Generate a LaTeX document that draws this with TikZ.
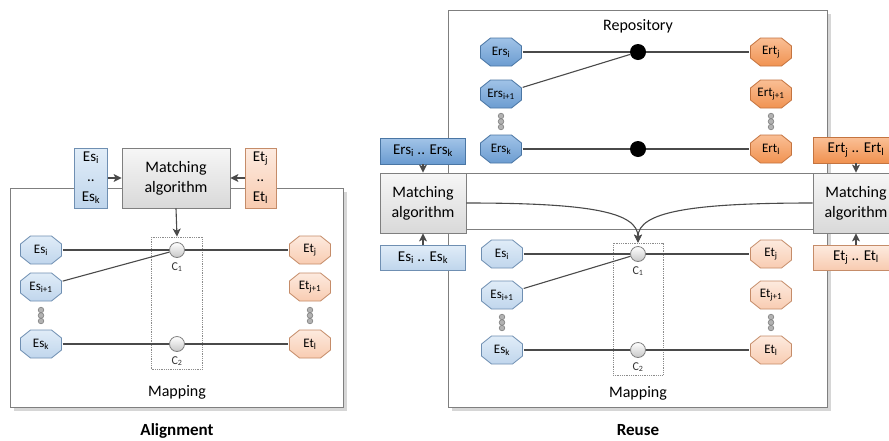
\documentclass[tikz,border=0pt]{standalone}
\usepackage{fontspec}
\setmainfont{Carlito}
\usetikzlibrary{arrows.meta}

\definecolor{framegray}{HTML}{7F7F7F}
\definecolor{shadowgray}{HTML}{D6D6D6}
\definecolor{linegray}{HTML}{4A4A4A}
\definecolor{esTop}{HTML}{E1EDF8}
\definecolor{esBot}{HTML}{BFD5EC}
\definecolor{esLine}{HTML}{6F8FB2}
\definecolor{ersTop}{HTML}{A2C4E8}
\definecolor{ersBot}{HTML}{6A9BD0}
\definecolor{ersLine}{HTML}{4A76A4}
\definecolor{etTop}{HTML}{FDEBE0}
\definecolor{etBot}{HTML}{F8CBB0}
\definecolor{etLine}{HTML}{C58C69}
\definecolor{ertTop}{HTML}{FAC097}
\definecolor{ertBot}{HTML}{F0914F}
\definecolor{ertLine}{HTML}{C47440}
\definecolor{grayTop}{HTML}{F6F6F6}
\definecolor{grayBot}{HTML}{D9D9D9}

\newcommand{\sbs}[1]{\textsubscript{#1}}

\begin{document}
\begin{tikzpicture}[x=1pt,y=-1pt,
  frame/.style={draw=framegray,line width=0.9pt},
  % octagonal entity: a rectangular node whose background is an octagon
  octo/.style n args={3}{rectangle,minimum width=43pt,minimum height=30pt,
    inner sep=0pt,font=\fontsize{13}{15}\selectfont,
    path picture={\shadedraw[draw=#1,line width=0.8pt,top color=#2,bottom color=#3]
      ([shift={(-10.5,-14)}]path picture bounding box.center)
      -- ++(21,0) -- ++(10,8) -- ++(0,12) -- ++(-10,8)
      -- ++(-21,0) -- ++(-10,-8) -- ++(0,-12) -- cycle;}},
  srcocto/.style={octo={esLine}{esTop}{esBot}},
  tgtocto/.style={octo={etLine}{etTop}{etBot}},
  rsrcocto/.style={octo={ersLine}{ersTop}{ersBot}},
  rtgtocto/.style={octo={ertLine}{ertTop}{ertBot}},
  sidebox/.style={rectangle,inner sep=0pt,line width=0.8pt,align=center,
    font=\fontsize{15}{20}\selectfont},
  srcbox/.style={sidebox,draw=esLine,top color=esTop,bottom color=esBot},
  tgtbox/.style={sidebox,draw=etLine,top color=etTop,bottom color=etBot},
  rsrcbox/.style={sidebox,draw=ersLine,top color=ersTop,bottom color=ersBot},
  rtgtbox/.style={sidebox,draw=ertLine,top color=ertTop,bottom color=ertBot},
  matchbox/.style={rectangle,inner sep=0pt,draw=framegray,line width=0.8pt,
    top color=grayTop,bottom color=grayBot,align=center,
    minimum height=60pt,font=\fontsize{16}{20}\selectfont},
  hub/.style={circle,minimum size=15pt,inner sep=0pt,draw=framegray,
    line width=0.8pt,top color=white,bottom color=black!22},
  bigdot/.style={circle,minimum size=16pt,inner sep=0pt,fill=black},
  corr/.style={rectangle,draw=black!45,densely dotted,line width=0.8pt,
    inner sep=0pt,minimum width=51pt,minimum height=132pt},
  clabel/.style={font=\fontsize{12}{14}\selectfont,text=black!80,inner sep=0pt},
  caption/.style={font=\fontsize{16}{20}\selectfont,inner sep=0pt},
  title/.style={font=\fontsize{17}{20}\selectfont\bfseries,inner sep=0pt,anchor=base},
  link/.style={draw=linegray,line width=1.1pt},
  arr/.style={draw=linegray,line width=1.1pt,-{Stealth[length=8pt,width=8pt,inset=2pt]}},
  ell/.style={draw=black!50,fill=black!30,line width=0.6pt}
]
\useasboundingbox (0,0) rectangle (889,440);
\clip (0,0) rectangle (889,440);
\fill[white] (0,0) rectangle (889,440);

% ---------- Alignment ----------
\fill[shadowgray] (14,192) rectangle (347,411);
\fill[white] (10,188) rectangle (343,407);
\draw[frame] (10,188) rectangle (343,407);

\node[matchbox,minimum width=108pt] (matchA) at (176,178) {Matching\\algorithm};
\node[srcbox,minimum width=33pt,minimum height=60pt] (esA) at (91,178) {Es\sbs{i}\\..\\Es\sbs{k}};
\node[tgtbox,minimum width=31pt,minimum height=60pt] (etA) at (260.5,178) {Et\sbs{j}\\..\\Et\sbs{l}};

\node[corr] (corrA) at (177,303) {};
\node[hub] (c1A) at (177,250) {};
\node[hub] (c2A) at (177,344) {};
\node[clabel] (c1Alab) at (177,267) {C\sbs{1}};
\node[clabel] (c2Alab) at (177,361) {C\sbs{2}};

\node[srcocto] (esiA)  at (41,250) {Es\sbs{i}};
\node[srcocto] (esi1A) at (41,287) {Es\sbs{i+1}};
\node[srcocto] (eskA)  at (41,344) {Es\sbs{k}};
\node[tgtocto] (etjA)  at (310,250) {Et\sbs{j}};
\node[tgtocto] (etj1A) at (310,287) {Et\sbs{j+1}};
\node[tgtocto] (etlA)  at (310,344) {Et\sbs{l}};

\foreach \yy in {310,315.5,321} {
  \filldraw[ell] (41,\yy) circle (2.8);
  \filldraw[ell] (310,\yy) circle (2.8);
}

\draw[link] (esiA) -- (c1A);
\draw[link] (esi1A) -- (c1A);
\draw[link] (c1A) -- (etjA);
\draw[link] (eskA) -- (c2A);
\draw[link] (c2A) -- (etlA);

\draw[arr] (esA.east) -- (matchA.west);
\draw[arr] (etA.west) -- (matchA.east);
\draw[arr] (matchA.south) -- (corrA.north);

\node[caption] (mapA) at (177,392) {Mapping};
\node[title] (titA) at (177,435) {Alignment};

% ---------- Reuse ----------
\fill[shadowgray] (452,14) rectangle (831,233);
\fill[shadowgray] (452,177) rectangle (831,411);
\fill[white] (448,10) rectangle (827,229);
\fill[white] (448,173) rectangle (827,407);
\draw[frame] (448,10) rectangle (827,229);
\draw[frame] (448,173) rectangle (827,407);

\node[caption] (repo) at (638,26) {Repository};

% repository alignments
\node[bigdot] (d1) at (638,52) {};
\node[bigdot] (d2) at (638,149) {};
\node[rsrcocto] (ersi)  at (501,52)  {Ers\sbs{i}};
\node[rsrcocto] (ersi1) at (501,94)  {Ers\sbs{i+1}};
\node[rsrcocto] (ersk)  at (501,149) {Ers\sbs{k}};
\node[rtgtocto] (ertj)  at (771,52)  {Ert\sbs{j}};
\node[rtgtocto] (ertj1) at (771,94)  {Ert\sbs{j+1}};
\node[rtgtocto] (ertl)  at (771,149) {Ert\sbs{l}};
\foreach \yy in {116,121.5,127} {
  \filldraw[ell] (501,\yy) circle (2.8);
  \filldraw[ell] (771,\yy) circle (2.8);
}
\draw[link] (ersi) -- (d1);
\draw[link] (ersi1) -- (d1);
\draw[link] (d1) -- (ertj);
\draw[link] (ersk) -- (d2);
\draw[link] (d2) -- (ertl);

% new mapping
\node[corr,minimum width=50pt] (corrB) at (638,309) {};
\node[hub] (c1B) at (638,254) {};
\node[hub] (c2B) at (638,350) {};
\node[clabel] (c1Blab) at (638,271) {C\sbs{1}};
\node[clabel] (c2Blab) at (638,367) {C\sbs{2}};

\node[srcocto] (esiB)  at (502,254) {Es\sbs{i}};
\node[srcocto] (esi1B) at (502,295) {Es\sbs{i+1}};
\node[srcocto] (eskB)  at (502,350) {Es\sbs{k}};
\node[tgtocto] (etjB)  at (771,254) {Et\sbs{j}};
\node[tgtocto] (etj1B) at (771,295) {Et\sbs{j+1}};
\node[tgtocto] (etlB)  at (771,350) {Et\sbs{l}};
\foreach \yy in {317,322.5,328} {
  \filldraw[ell] (502,\yy) circle (2.8);
  \filldraw[ell] (771,\yy) circle (2.8);
}
\draw[link] (esiB) -- (c1B);
\draw[link] (esi1B) -- (c1B);
\draw[link] (c1B) -- (etjB);
\draw[link] (eskB) -- (c2B);
\draw[link] (c2B) -- (etlB);

% matchers feeding the mapping
\node[matchbox,minimum width=86pt] (matchL) at (423,203) {Matching\\algorithm};
\node[matchbox,minimum width=86pt] (matchR) at (856,203) {Matching\\algorithm};
\node[rsrcbox,minimum width=85pt,minimum height=26pt] (ersbox) at (423,151) {Ers\sbs{i} .. Ers\sbs{k}};
\node[srcbox,minimum width=85pt,minimum height=25pt] (esbox) at (423,257.5) {Es\sbs{i} .. Es\sbs{k}};
\node[rtgtbox,minimum width=86pt,minimum height=26pt] (ertbox) at (856,150) {Ert\sbs{j} .. Ert\sbs{l}};
\node[tgtbox,minimum width=86pt,minimum height=25pt] (etbox) at (856,257.5) {Et\sbs{j} .. Et\sbs{l}};

\draw[arr] (ersbox.south) -- (matchL.north);
\draw[arr] (esbox.north) -- (matchL.south);
\draw[arr] (ertbox.south) -- (matchR.north);
\draw[arr] (etbox.north) -- (matchR.south);

\draw[arr] (matchL.east) .. controls (590,203) and (638,212) .. (corrB.north);
\draw[arr] (matchR.west) .. controls (690,203) and (638,212) .. (corrB.north);

\node[caption] (mapB) at (638,393) {Mapping};
\node[title] (titB) at (638,435) {Reuse};
\end{tikzpicture}
\end{document}
